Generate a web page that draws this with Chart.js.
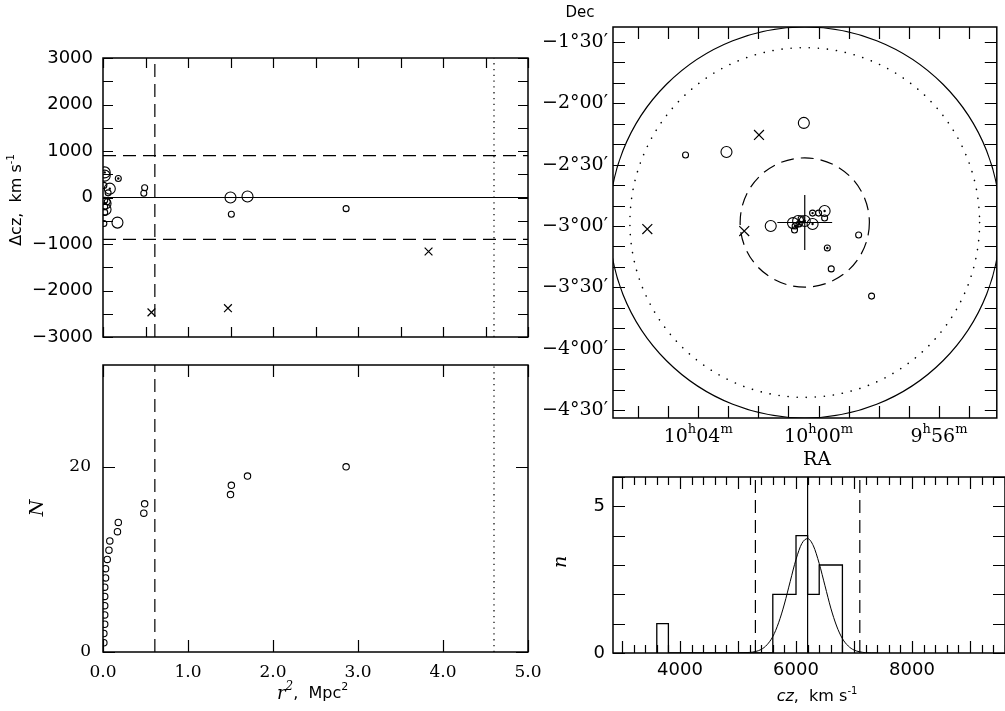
<!DOCTYPE html>
<html>
<head>
<meta charset="utf-8">
<script src="https://cdn.jsdelivr.net/npm/chart.js@4.4.0/dist/chart.umd.min.js"></script>
<style>
html, body { margin: 0; padding: 0; background: #fff; }
#wrap { position: relative; width: 1005px; height: 711px; overflow: hidden; }
#wrap canvas { position: absolute; left: 0; top: 0; }
</style>
</head>
<body>
<div id="wrap">
<canvas id="dv" width="1005" height="711"></canvas>
<canvas id="cum" width="1005" height="711"></canvas>
<canvas id="sky" width="1005" height="711"></canvas>
<canvas id="hist" width="1005" height="711"></canvas>
</div>
<script>
// group members: projected r^2 (Mpc^2) and velocity offset from the mean (km/s)
const memR2     = [0.02, 0.02, 0.01, 0.08, 0.06, 0.18, 0.48, 0.49, 0.02, 0.03, 0.02, 0.03, 0.02, 0.01, 0.17, 1.50, 1.51, 1.70, 2.86, 0.05];
const memDcz    = [540, 470, 260, 190, 100, 410, 90, 210, -60, -130, -200, -260, -320, -560, -540, 0, -360, 20, -240, -90];
const memBright = [1, 1, 0, 1, 0, 0, 0, 0, 0, 1, 0, 1, 0, 0, 1, 1, 0, 1, 0, 0];
const memEarly  = [1, 0, 0, 1, 0, 1, 0, 0, 0, 1, 0, 0, 0, 0, 0, 0, 0, 0, 0, 0];

// rejected interlopers
const outR2  = [0.57, 1.47, 3.83];
const outDcz = [-2470, -2380, -1160];

// cumulative number of members inside r^2
const cumR2 = [0.01, 0.01, 0.02, 0.02, 0.02, 0.02, 0.02, 0.03, 0.03, 0.05, 0.07, 0.08, 0.17, 0.18, 0.48, 0.49, 1.50, 1.51, 1.70, 2.86];
const cumN  = [1, 2, 3, 4, 5, 6, 7, 8, 9, 10, 11, 12, 13, 14, 15, 16, 17, 18, 19, 20];

// sky positions: RA in minutes of time from 10h00m, Dec in arcmin
const skyRA     = [4.42, 3.06, 0.49, 1.59, 0.85, 0.68, 0.46, 0.20, 0.80, 0.78, 0.65, 0.20, 0.00, -0.20, -0.20, -1.33, -0.29, -0.42, -1.76, 0.58];
const skyDec    = [-145.3, -143.8, -129.6, -180.0, -178.6, -177.6, -177.6, -179.0, -182.0, -180.0, -179.0, -173.7, -173.7, -172.7, -176.1, -184.4, -190.8, -201.0, -214.3, -176.5];
const skyBright = [0, 1, 1, 1, 1, 1, 1, 1, 0, 0, 0, 0, 0, 1, 0, 0, 0, 0, 0, 0];
const skyEarly  = [0, 0, 0, 0, 0, 0, 1, 1, 0, 1, 1, 1, 0, 1, 0, 0, 1, 0, 0, 0];
const skyOutRA  = [5.69, 2.47, 1.98];
const skyOutDec = [-181.5, -182.5, -135.5];

// group centre, centroid cross and search radii (arcmin)
const cenRA = 0.46, cenDec = -178.3;
const crossRA = [1.37, -0.45], crossDec = [-164.9, -191.8];
const ringR = [95.6, 85.5, 31.6];

// velocity histogram
const binLo = [3600, 3800, 4000, 4200, 4400, 4600, 4800, 5000, 5200, 5400, 5600, 5800, 6000, 6200, 6400, 6600];
const binN  = [1, 0, 0, 0, 0, 0, 0, 0, 0, 0, 2, 2, 4, 2, 3, 3];
const binW  = 200;
const gaussCz = [5000, 5100, 5200, 5300, 5400, 5500, 5600, 5700, 5800, 5900, 6000, 6100, 6200, 6300, 6400, 6500, 6600, 6700, 6800, 6900, 7000, 7100, 7200, 7300, 7400];
const gaussN  = [0.00, 0.01, 0.02, 0.05, 0.12, 0.28, 0.56, 1.03, 1.67, 2.44, 3.19, 3.73, 3.90, 3.65, 3.05, 2.29, 1.53, 0.92, 0.49, 0.24, 0.10, 0.04, 0.01, 0.00, 0.00];
const czMean = 6200, czCut = 900;

// r^2 limits
const rIn2 = 0.61, rOut2 = 4.6;

// tick labels
const dvTicks  = [-3000, -2000, -1000, 0, 1000, 2000, 3000];
const r2Ticks  = [0, 1, 2, 3, 4, 5];
const nTicks   = [0, 20];
const decTicks = [-270, -240, -210, -180, -150, -120, -90];
const raTicks  = [4, 0, -4];
const raText   = [['10', '04'], ['10', '00'], ['9', '56']];
const czTicks  = [4000, 6000, 8000];
const hTicks   = [0, 5];

const SANS = 'DejaVu Sans', SERIF = 'DejaVu Serif';
const W = 1005, H = 711;
Chart.defaults.color = '#000';

const minus = v => (v < 0 ? '\u2212' + Math.abs(v) : String(v));
const decFmt = v => {
  const a = Math.abs(v), d = Math.floor(a / 60), m = Math.round(a - d * 60);
  return '\u2212' + d + '\u00b0' + String(m).padStart(2, '0') + '\u2032';
};

function drawRich(ctx, x, y, parts, align, rot) {
  ctx.save();
  ctx.translate(x, y);
  if (rot) ctx.rotate(rot);
  let w = 0;
  parts.forEach(p => { ctx.font = p.f; p.w = ctx.measureText(p.t).width; w += p.w; });
  let cx = align === 'center' ? -w / 2 : align === 'right' ? -w : 0;
  ctx.fillStyle = '#000';
  ctx.textAlign = 'left';
  ctx.textBaseline = 'middle';
  parts.forEach(p => { ctx.font = p.f; ctx.fillText(p.t, cx, p.dy || 0); cx += p.w; });
  ctx.restore();
}

// frame, inward ticks, rings and free text
const decor = {
  id: 'decor',
  beforeDatasetsDraw(chart, args, o) {
    if (!o.rings) return;
    const { ctx, chartArea: a, scales: { x, y } } = chart;
    ctx.save();
    ctx.beginPath();
    ctx.rect(a.left, a.top, a.right - a.left, a.bottom - a.top);
    ctx.clip();
    o.rings.forEach(r => {
      const cx = x.getPixelForValue(r.ra), cy = y.getPixelForValue(r.dec);
      const rad = Math.abs(y.getPixelForValue(r.dec + r.r) - cy);
      ctx.beginPath();
      ctx.arc(cx, cy, rad, 0, Math.PI * 2);
      ctx.setLineDash(r.dash || []);
      ctx.lineCap = r.cap || 'butt';
      ctx.lineWidth = r.w || 1.2;
      ctx.strokeStyle = '#000';
      ctx.stroke();
    });
    ctx.restore();
  },
  afterDraw(chart, args, o) {
    const { ctx, chartArea: a, scales: { x, y } } = chart;
    ctx.save();
    ctx.strokeStyle = '#000';
    ctx.lineWidth = 1.2;
    ctx.beginPath();
    const each = (s, step, fn) => {
      for (let k = Math.ceil(s.min / step - 1e-9); k * step <= s.max + 1e-9; k++) fn(k * step, k);
    };
    each(x, o.xStep, (v, k) => {
      const px = Math.round(x.getPixelForValue(v)) + 0.5;
      const len = o.xMajor && k % o.xMajor === 0 ? o.xLenMajor : o.xLen;
      ctx.moveTo(px, a.bottom); ctx.lineTo(px, a.bottom - len);
      ctx.moveTo(px, a.top); ctx.lineTo(px, a.top + len);
    });
    each(y, o.yStep, v => {
      const py = Math.round(y.getPixelForValue(v)) + 0.5;
      ctx.moveTo(a.left, py); ctx.lineTo(a.left + o.yLen, py);
      ctx.moveTo(a.right, py); ctx.lineTo(a.right - o.yLen, py);
    });
    ctx.stroke();
    ctx.lineWidth = 1.5;
    ctx.strokeRect(a.left, a.top, a.right - a.left, a.bottom - a.top);
    if (o.raLabels) {
      raTicks.forEach((v, i) => {
        drawRich(ctx, x.getPixelForValue(v), o.raLabels, [
          { t: raText[i][0], f: '19px ' + SERIF },
          { t: 'h', f: '13px ' + SERIF, dy: -7 },
          { t: raText[i][1], f: '19px ' + SERIF },
          { t: 'm', f: '13px ' + SERIF, dy: -7 }
        ], 'center');
      });
    }
    (o.texts || []).forEach(t => drawRich(ctx, t.x, t.y, t.parts, t.align || 'center', t.rot));
    ctx.restore();
  }
};
Chart.register(decor);

const pts = (xs, ys) => xs.map((v, i) => ({ x: v, y: ys[i] }));
const pick = (xs, ys, flags) => pts(xs, ys).filter((p, i) => flags[i]);
const lineDs = (data, dash, w) => ({
  data, showLine: true, borderColor: '#000', borderWidth: w || 1.2,
  borderDash: dash || [], pointRadius: 0, fill: false
});
const ringDs = (data, radii) => ({
  data, pointStyle: 'circle', pointRadius: radii, borderColor: '#000',
  backgroundColor: 'rgba(0,0,0,0)', pointBorderWidth: 1.1
});
const dotDs = data => ({ data, pointStyle: 'circle', pointRadius: 1.2, borderWidth: 0, backgroundColor: '#000' });
const crossDs = (data, r) => ({ data, pointStyle: 'crossRot', pointRadius: r, borderColor: '#000', pointBorderWidth: 1.2 });

const base = (area, scales, plugin, bottomAxis) => ({
  responsive: false,
  animation: false,
  events: [],
  layout: { padding: { left: 0, top: area.top, right: W - area.right, bottom: H - area.bottom - (bottomAxis || 0) } },
  scales,
  plugins: { legend: { display: false }, tooltip: { enabled: false }, decor: plugin }
});
const yAxis = (min, max, values, fmt, font, pad, width, reverse) => ({
  type: 'linear', min, max, reverse: !!reverse,
  grid: { display: false, drawTicks: false }, border: { display: false },
  afterBuildTicks: s => { s.ticks = values.map(v => ({ value: v })); },
  afterFit: s => { s.width = width; },
  ticks: { padding: pad, font, callback: fmt }
});
const xAxis = (min, max, values, fmt, font, pad, height) => ({
  type: 'linear', min, max,
  grid: { display: false, drawTicks: false }, border: { display: false },
  afterBuildTicks: s => { s.ticks = values.map(v => ({ value: v })); },
  afterFit: s => { s.height = height; },
  ticks: { padding: pad, font, callback: fmt, maxRotation: 0 }
});

// velocity offset against r^2
new Chart(document.getElementById('dv'), {
  type: 'scatter',
  data: {
    datasets: [
      lineDs([{ x: 0, y: 0 }, { x: 5, y: 0 }]),
      lineDs([{ x: 0, y: czCut }, { x: 5, y: czCut }], [13, 7]),
      lineDs([{ x: 0, y: -czCut }, { x: 5, y: -czCut }], [13, 7]),
      lineDs([{ x: rIn2, y: -3000 }, { x: rIn2, y: 3000 }], [13, 7]),
      lineDs([{ x: rOut2, y: -3000 }, { x: rOut2, y: 3000 }], [1.3, 4.5]),
      ringDs(pts(memR2, memDcz), memBright.map(b => (b ? 5.5 : 3))),
      dotDs(pick(memR2, memDcz, memEarly)),
      crossDs(pts(outR2, outDcz), 5.5)
    ]
  },
  options: base({ top: 58, right: 528, bottom: 337 }, {
    x: { type: 'linear', min: 0, max: 5, display: false },
    y: yAxis(-3000, 3000, dvTicks, minus, { family: SANS, size: 18 }, 10, 103)
  }, {
    xStep: 0.5, xLen: 10, yStep: 500, yLen: 10,
    texts: [{ x: 17, y: 200, rot: -Math.PI / 2, parts: [
      { t: '\u0394cz,  km s', f: '16px ' + SANS },
      { t: '-1', f: '10px ' + SANS, dy: -6 }
    ] }]
  })
});

// cumulative members against r^2
new Chart(document.getElementById('cum'), {
  type: 'scatter',
  data: {
    datasets: [
      lineDs([{ x: rIn2, y: 0 }, { x: rIn2, y: 31 }], [13, 7]),
      lineDs([{ x: rOut2, y: 0 }, { x: rOut2, y: 31 }], [1.3, 4.5]),
      ringDs(pts(cumR2, cumN), 3.2)
    ]
  },
  options: base({ top: 365, right: 528, bottom: 652 }, {
    x: xAxis(0, 5, r2Ticks, v => v.toFixed(1), { family: SERIF, size: 17 }, 10, 40),
    y: yAxis(0, 31, nTicks, v => String(v), { family: SERIF, size: 17 }, 12, 103)
  }, {
    xStep: 1, xLen: 12, yStep: 20, yLen: 12,
    texts: [
      { x: 38, y: 508, rot: -Math.PI / 2, parts: [{ t: 'N', f: 'italic 19px ' + SERIF }] },
      { x: 277, y: 694, align: 'left', parts: [
        { t: 'r', f: 'italic 18px ' + SERIF },
        { t: '2', f: 'italic 12px ' + SERIF, dy: -7 },
        { t: ',  Mpc', f: '16px ' + SANS },
        { t: '2', f: '11px ' + SANS, dy: -7 }
      ] }
    ]
  }, 40)
});

// positions on the sky
new Chart(document.getElementById('sky'), {
  type: 'scatter',
  data: {
    datasets: [
      lineDs([{ x: crossRA[0], y: cenDec }, { x: crossRA[1], y: cenDec }]),
      lineDs([{ x: cenRA, y: crossDec[0] }, { x: cenRA, y: crossDec[1] }]),
      ringDs(pts(skyRA, skyDec), skyBright.map(b => (b ? 5.5 : 3))),
      dotDs(pick(skyRA, skyDec, skyEarly)),
      crossDs(pts(skyOutRA, skyOutDec), 7)
    ]
  },
  options: base({ top: 27, right: 1005, bottom: 418 }, {
    x: { type: 'linear', min: -5.92, max: 6.83, reverse: true, display: false },
    y: yAxis(-273.9, -82.7, decTicks, decFmt, { family: SERIF, size: 19 }, 5, 613)
  }, {
    xStep: 1, xLen: 12, yStep: 10, yLen: 12,
    rings: [
      { ra: cenRA, dec: cenDec, r: ringR[0], w: 1.2 },
      { ra: cenRA, dec: cenDec, r: ringR[1], w: 1.6, dash: [0.1, 9], cap: 'round' },
      { ra: cenRA, dec: cenDec, r: ringR[2], w: 1.2, dash: [13, 7] }
    ],
    raLabels: 437,
    texts: [
      { x: 580, y: 13, parts: [{ t: 'Dec', f: '15px ' + SANS }] },
      { x: 817, y: 460, parts: [{ t: 'RA', f: '19px ' + SERIF }] }
    ]
  })
});

// velocity distribution
const histPts = [{ x: binLo[0], y: 0 }]
  .concat(binLo.map((v, i) => ({ x: v, y: binN[i] })))
  .concat([{ x: binLo[binLo.length - 1] + binW, y: 0 }]);
new Chart(document.getElementById('hist'), {
  type: 'scatter',
  data: {
    datasets: [
      Object.assign(lineDs(histPts, [], 1.3), { stepped: 'before' }),
      Object.assign(lineDs(pts(gaussCz, gaussN), [], 1), { cubicInterpolationMode: 'monotone' }),
      lineDs([{ x: czMean, y: 0 }, { x: czMean, y: 6 }]),
      lineDs([{ x: czMean - czCut, y: 0 }, { x: czMean - czCut, y: 6 }], [13, 7]),
      lineDs([{ x: czMean + czCut, y: 0 }, { x: czMean + czCut, y: 6 }], [13, 7])
    ]
  },
  options: base({ top: 477, right: 1005, bottom: 653 }, {
    x: xAxis(2845, 9603, czTicks, v => String(v), { family: SANS, size: 18 }, 7, 40),
    y: yAxis(0, 6, hTicks, v => String(v), { family: SANS, size: 18 }, 8, 613)
  }, {
    xStep: 200, xLen: 8, xMajor: 5, xLenMajor: 12, yStep: 1, yLen: 12,
    texts: [
      { x: 561, y: 562, rot: -Math.PI / 2, parts: [{ t: 'n', f: 'italic 19px ' + SERIF }] },
      { x: 817, y: 697, parts: [
        { t: 'cz', f: 'italic 16px ' + SANS },
        { t: ',  km s', f: '16px ' + SANS },
        { t: '-1', f: '10px ' + SANS, dy: -6 }
      ] }
    ]
  }, 40)
});
</script>
</body>
</html>
